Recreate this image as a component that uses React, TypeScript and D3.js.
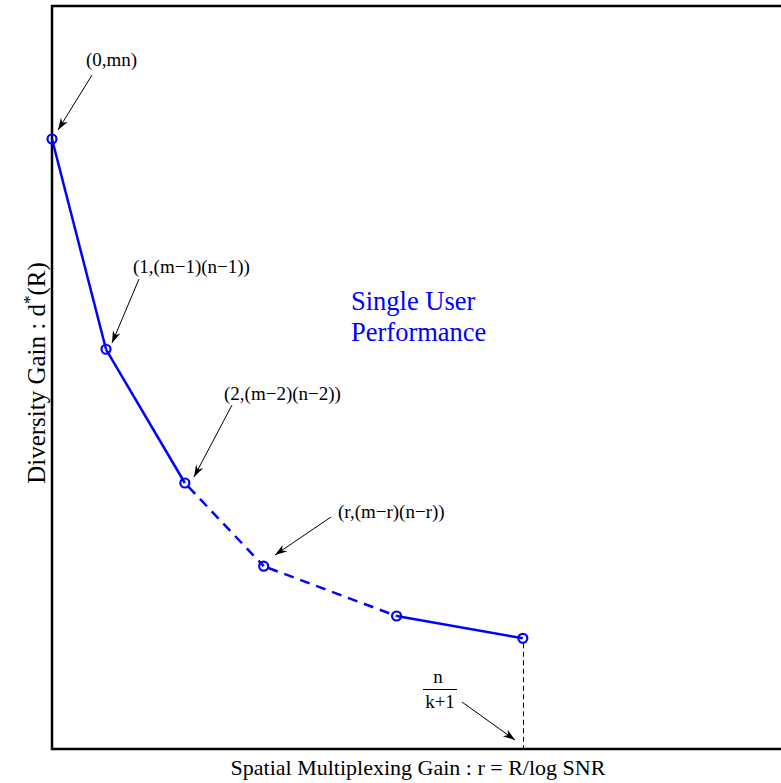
import React from "react";
import * as d3 from "d3";

// Data (plot units: x in [0,10], y in [0,10])
const rValues = [0, 0.74, 1.82, 2.9, 4.72, 6.45];
const dValues = [8.21, 5.38, 3.58, 2.46, 1.79, 1.49];
// segment styles between consecutive points
const segmentDashed = [false, false, true, true, false];

const pointLabels = ["(0,mn)", "(1,(m\u22121)(n\u22121))", "(2,(m\u22122)(n\u22122))", "(r,(m\u2212r)(n\u2212r))"];

const xLabel = "Spatial Multiplexing Gain : r = R/log SNR";
const titleLines = ["Single User", "Performance"];

const W = 781;
const H = 783;
const left = 52;
const top = 6;
const bottom = 749;
const right = 782;

export default function App() {
  const x = d3.scaleLinear().domain([0, 10]).range([left, right]);
  const y = d3.scaleLinear().domain([0, 10]).range([bottom, top]);
  const pts = rValues.map((r, i) => [x(r), y(dValues[i])] as [number, number]);
  const line = d3.line();
  const serif = "'Liberation Serif', 'Times New Roman', serif";

  // arrows: start near label, end near point
  const arrows: [number, number, number, number][] = [
    [92, 75, 58, 130],
    [139, 279, 112, 343],
    [232, 405, 194, 477],
    [331, 517, 275, 555],
    [462, 702, 515, 740],
  ];

  const arrowHead = (x1: number, y1: number, x2: number, y2: number) => {
    const a = Math.atan2(y2 - y1, x2 - x1);
    const L = 12, Wd = 4;
    const bx = x2 - L * Math.cos(a), by = y2 - L * Math.sin(a);
    const px = -Math.sin(a) * Wd, py = Math.cos(a) * Wd;
    const mx = x2 - L * 0.7 * Math.cos(a), my = y2 - L * 0.7 * Math.sin(a);
    return `M${x2},${y2}L${bx + px},${by + py}L${mx},${my}L${bx - px},${by - py}Z`;
  };

  const labelXY = [
    [86, 66],
    [133, 273],
    [224, 400],
    [338, 518],
  ];

  const vx = Math.round(pts[5][0]) + 0.5;

  return (
    <svg width={W} height={H} style={{ position: "absolute", left: 0, top: 0, background: "#fff" }}>
      {/* frame */}
      <path d={`M${right + 10},${top}H${left}V${bottom}H${right + 10}`} fill="none" stroke="#000" strokeWidth={2.5} />

      {/* vertical dashed line */}
      <line x1={vx} y1={pts[5][1] + 5} x2={vx} y2={bottom} stroke="#000" strokeWidth={1} strokeDasharray="5,3.5" />

      {/* segments */}
      {segmentDashed.map((dashed, i) => (
        <path
          key={i}
          d={line([pts[i], pts[i + 1]]) || ""}
          fill="none"
          stroke="#0000ff"
          strokeWidth={2.5}
          strokeDasharray={dashed ? "10,7" : undefined}
          strokeDashoffset={dashed ? -5 : 0}
        />
      ))}

      {/* points */}
      {pts.map((p, i) => (
        <circle key={i} cx={p[0]} cy={p[1]} r={4.5} fill="none" stroke="#0000ff" strokeWidth={2.2} />
      ))}

      {/* arrows */}
      {arrows.map((a, i) => (
        <g key={i}>
          <line x1={a[0]} y1={a[1]} x2={a[2]} y2={a[3]} stroke="#000" strokeWidth={1} />
          <path d={arrowHead(a[0], a[1], a[2], a[3])} fill="#000" />
        </g>
      ))}

      {/* point labels */}
      {pointLabels.map((t, i) => (
        <text key={i} x={labelXY[i][0]} y={labelXY[i][1]} fontFamily={serif} fontSize={19} fill="#000">
          {t}
        </text>
      ))}

      {/* fraction n/(k+1) */}
      <text x={438} y={683} textAnchor="middle" fontFamily={serif} fontSize={19}>n</text>
      <line x1={423} x2={457} y1={689.5} y2={689.5} stroke="#000" strokeWidth={1} />
      <text x={440} y={708} textAnchor="middle" fontFamily={serif} fontSize={19}>k+1</text>

      {/* title */}
      {titleLines.map((t, i) => (
        <text key={i} x={351} y={310 + i * 31} fontFamily={serif} fontSize={26.5} fill="#0000ff">
          {t}
        </text>
      ))}

      {/* axis labels */}
      <text x={418} y={775} textAnchor="middle" fontFamily={serif} fontSize={22}>
        {xLabel}
      </text>
      <text transform={`translate(45,373) rotate(-90)`} textAnchor="middle" fontFamily={serif} fontSize={25}>
        Diversity Gain : d<tspan dy={-10} fontSize={17}>*</tspan><tspan dy={10}>(R)</tspan>
      </text>
    </svg>
  );
}
